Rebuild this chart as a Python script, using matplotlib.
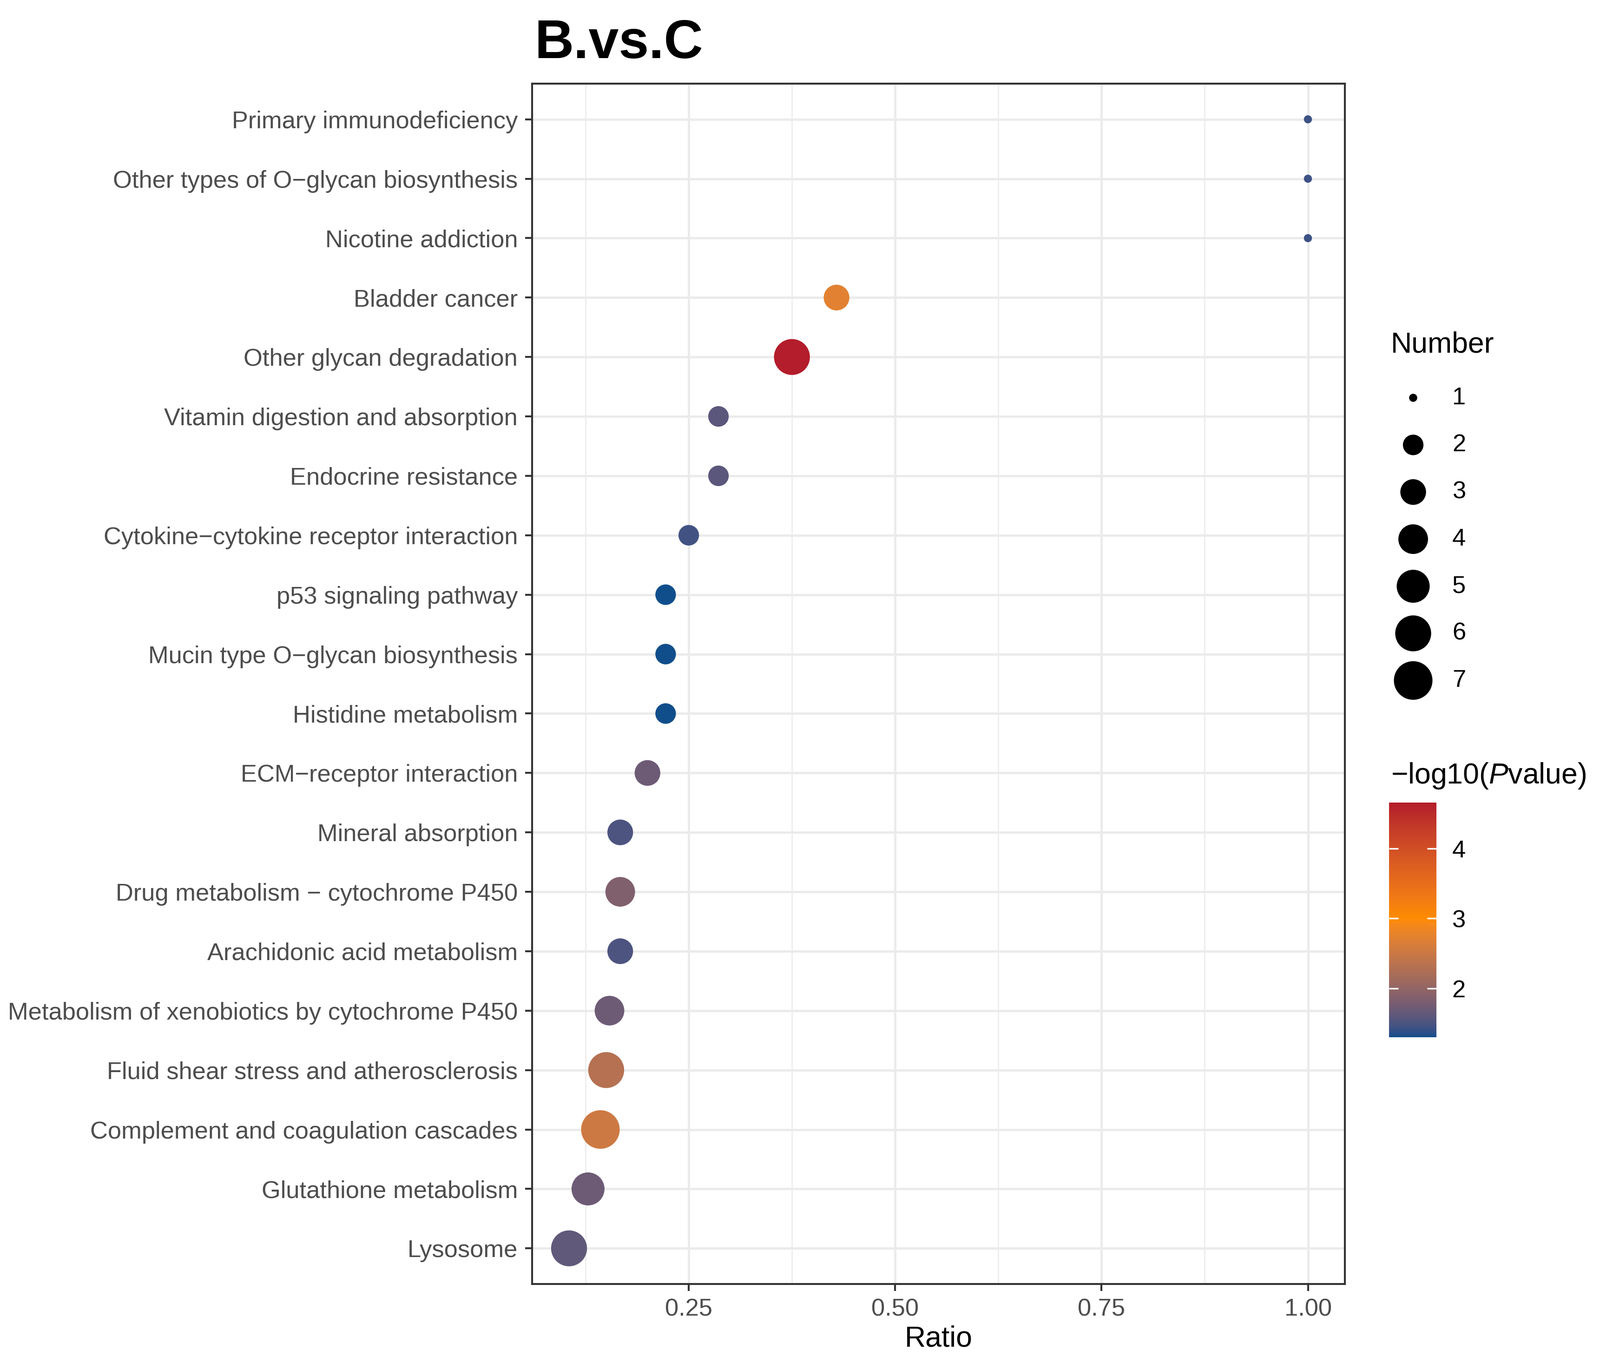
import numpy as np
import matplotlib
matplotlib.use('Agg')
import matplotlib.pyplot as plt
from matplotlib.colors import ListedColormap, Normalize

plt.rcParams['font.family'] = ['Liberation Sans', 'DejaVu Sans']
plt.rcParams['mathtext.fontset'] = 'custom'
plt.rcParams['mathtext.rm'] = 'Liberation Sans'
plt.rcParams['mathtext.it'] = 'Liberation Sans:italic'

# data, top to bottom as in the chart
pathways = [
    'Primary immunodeficiency',
    'Other types of O\u2212glycan biosynthesis',
    'Nicotine addiction',
    'Bladder cancer',
    'Other glycan degradation',
    'Vitamin digestion and absorption',
    'Endocrine resistance',
    'Cytokine\u2212cytokine receptor interaction',
    'p53 signaling pathway',
    'Mucin type O\u2212glycan biosynthesis',
    'Histidine metabolism',
    'ECM\u2212receptor interaction',
    'Mineral absorption',
    'Drug metabolism \u2212 cytochrome P450',
    'Arachidonic acid metabolism',
    'Metabolism of xenobiotics by cytochrome P450',
    'Fluid shear stress and atherosclerosis',
    'Complement and coagulation cascades',
    'Glutathione metabolism',
    'Lysosome',
]
ratio = [1.0, 1.0, 1.0, 0.429, 0.375, 0.286, 0.286, 0.25, 0.222, 0.222,
         0.222, 0.20, 0.167, 0.167, 0.167, 0.154, 0.15, 0.143, 0.128, 0.105]
number = [1, 1, 1, 3, 6, 2, 2, 2, 2, 2, 2, 3, 3, 4, 3, 4, 6, 7, 5, 6]
neglogp = [1.42, 1.42, 1.42, 2.72, 4.66, 1.58, 1.58, 1.45, 1.30, 1.30,
           1.30, 1.70, 1.50, 1.85, 1.50, 1.70, 2.30, 2.52, 1.70, 1.62]
size_breaks = [1, 2, 3, 4, 5, 6, 7]
color_breaks = [2, 3, 4]

low_col, mid_col, high_col = '#104E8B', '#FF8C00', '#B2182B'
midpoint = 3


# colour ramp in Lab space, like ggplot's gradient2
def hex_rgb(h):
    h = h.lstrip('#')
    return np.array([int(h[i:i + 2], 16) / 255 for i in (0, 2, 4)])


M = np.array([[0.4124, 0.3576, 0.1805],
              [0.2126, 0.7152, 0.0722],
              [0.0193, 0.1192, 0.9505]])
WHITE = np.array([0.95047, 1.0, 1.08883])


def rgb_lab(c):
    lin = np.where(c <= 0.04045, c / 12.92, ((c + 0.055) / 1.055) ** 2.4)
    xyz = M @ lin / WHITE
    f = np.where(xyz > 0.008856, np.cbrt(xyz), 7.787 * xyz + 16 / 116)
    return np.array([116 * f[1] - 16, 500 * (f[0] - f[1]), 200 * (f[1] - f[2])])


def lab_rgb(lab):
    fy = (lab[0] + 16) / 116
    fx = fy + lab[1] / 500
    fz = fy - lab[2] / 200
    f = np.array([fx, fy, fz])
    xyz = np.where(f ** 3 > 0.008856, f ** 3, (f - 16 / 116) / 7.787) * WHITE
    lin = np.linalg.solve(M, xyz)
    lin = np.clip(lin, 0, 1)
    c = np.where(lin <= 0.0031308, 12.92 * lin, 1.055 * lin ** (1 / 2.4) - 0.055)
    return np.clip(c, 0, 1)


labs = [rgb_lab(hex_rgb(c)) for c in (low_col, mid_col, high_col)]
ramp = []
for t in np.linspace(0, 1, 512):
    if t <= 0.5:
        lab = labs[0] + (labs[1] - labs[0]) * (t / 0.5)
    else:
        lab = labs[1] + (labs[2] - labs[1]) * ((t - 0.5) / 0.5)
    ramp.append(lab_rgb(lab))
cmap = ListedColormap(ramp)
lo, hi = min(neglogp), max(neglogp)
half = max(abs(lo - midpoint), abs(hi - midpoint))
norm = Normalize(vmin=midpoint - half, vmax=midpoint + half)


def dot_area(n):
    gg = 1 + 5 * np.sqrt((np.asarray(n, float) - 1) / 6)
    d = 1.106 * (gg * 2.845 + 0.945)
    return d ** 2


W, H = 3443, 2933
fig = plt.figure(figsize=(W / 300, H / 300), dpi=300)
ax = fig.add_axes([1145 / W, 1 - 2763 / H, (2894 - 1145) / W, (2763 - 180) / H])

ypos = np.arange(len(pathways))
ax.scatter(ratio, ypos, s=dot_area(number), c=neglogp, cmap=cmap, norm=norm,
           linewidths=0, zorder=3)

xr = max(ratio) - min(ratio)
ax.set_xlim(min(ratio) - 0.05 * xr, max(ratio) + 0.05 * xr)
ax.set_ylim(len(pathways) - 0.4, -0.6)
ax.set_yticks(ypos)
ax.set_yticklabels(pathways)
ax.set_xticks([0.25, 0.50, 0.75, 1.00])
ax.set_xticklabels(['0.25', '0.50', '0.75', '1.00'])
ax.set_xticks([0.125, 0.375, 0.625, 0.875], minor=True)
ax.grid(which='major', color='#EBEBEB', lw=1.2, zorder=0)
ax.grid(which='minor', axis='x', color='#EBEBEB', lw=0.6, zorder=0)
ax.set_axisbelow(True)
ax.tick_params(axis='both', which='major', labelsize=12.6, labelcolor='#4D4D4D',
               color='#333333', length=3.6, width=1.0, pad=3.8)
ax.tick_params(axis='x', which='minor', length=0)
for sp in ax.spines.values():
    sp.set_color('#333333')
    sp.set_linewidth(1.0)
ax.set_xlabel('Ratio', fontsize=15, color='black', labelpad=2)

fig.text(1150 / W, 1 - 125 / H, 'B.vs.C', fontsize=28, fontweight='bold',
         ha='left', va='baseline')

# size legend
fig.text(2993 / W, 1 - 742 / H, 'Number', fontsize=15, ha='left', va='center')
lax = fig.add_axes([2990 / W, 1 - 1514 / H, 400 / W, 710 / H])
lax.set_xlim(0, 400)
lax.set_ylim(7.49, 0.487)
lax.scatter([51] * len(size_breaks), size_breaks, s=dot_area(size_breaks),
            color='black', linewidths=0)
for b in size_breaks:
    lax.text(135, b, str(b), fontsize=12.6, ha='left', va='center')
lax.axis('off')

# colour bar
fig.text(2993 / W, 1 - 1670 / H, '\u2212log10($\\mathit{P}$value)', fontsize=15,
         ha='left', va='center')
cax = fig.add_axes([2989 / W, 1 - 2232 / H, 102 / W, 505 / H])
grad = np.linspace(lo, hi, 300).reshape(-1, 1)
cax.imshow(grad, cmap=cmap, norm=norm, aspect='auto', origin='lower',
           extent=[0, 1, lo, hi])
cax.set_xlim(0, 1)
cax.set_ylim(lo, hi)
cax.hlines(color_breaks, 0, 0.2, color='white', lw=0.8)
cax.hlines(color_breaks, 0.8, 1, color='white', lw=0.8)
cax.set_xticks([])
cax.yaxis.tick_right()
cax.set_yticks(color_breaks)
cax.set_yticklabels([str(b) for b in color_breaks])
cax.tick_params(axis='y', length=0, pad=8, labelsize=12.6)
for sp in cax.spines.values():
    sp.set_visible(False)

fig.savefig('out.png', dpi=300, facecolor='white')
